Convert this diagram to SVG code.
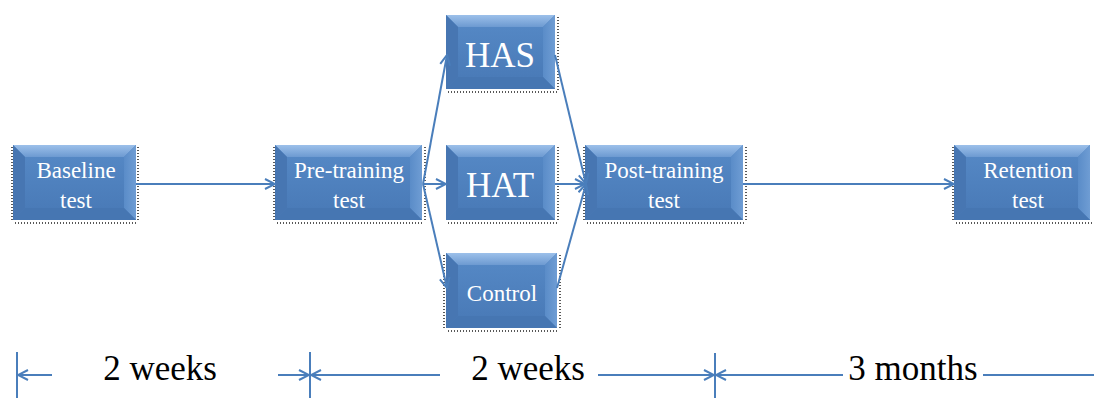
<svg xmlns="http://www.w3.org/2000/svg" width="1094" height="398" viewBox="0 0 1094 398">
<defs>
<linearGradient id="face" x1="0" y1="0" x2="0" y2="1">
<stop offset="0" stop-color="#5487c4"/>
<stop offset="1" stop-color="#4a7bb8"/>
</linearGradient>
<linearGradient id="topb" x1="0" y1="0" x2="0" y2="1">
<stop offset="0" stop-color="#9cc0ea"/>
<stop offset="1" stop-color="#6d9ad1"/>
</linearGradient>
<linearGradient id="rgt" x1="0" y1="0" x2="1" y2="0">
<stop offset="0" stop-color="#5a8cc8"/>
<stop offset="1" stop-color="#6f9dd4"/>
</linearGradient>
<marker id="ah" viewBox="0 0 12 12" refX="11" refY="6" markerWidth="12" markerHeight="12" markerUnits="userSpaceOnUse" orient="auto">
<path d="M1,1 L11,6 L1,11" fill="none" stroke="#4a7ebb" stroke-width="2"/>
</marker>
</defs>
<style>
.face{fill:url(#face)}
.tb{fill:url(#topb)}
.lb{fill:#4776b2}
.rb{fill:url(#rgt)}
.bb{fill:#4676b2}
.dot{fill:none;stroke:#222;stroke-width:1.5;stroke-dasharray:1 2}
.lbl{fill:#fff;text-anchor:middle}
.s{font-size:23px}
.b{font-size:35px}
.con{fill:none;stroke:#4a7ebb;stroke-width:2}
.dim{font-size:35px;fill:#000;text-anchor:middle}
</style>

<g id="baseline">
<path class="dot" d="M15,223 H137 M138,147 V222 M12,147 V222"/>
<rect class="face" x="13" y="145" width="123" height="75"/>
<polygon class="tb" points="13,145 136,145 124,157 25,157"/>
<polygon class="lb" points="13,145 25,157 25,208 13,220"/>
<polygon class="rb" points="136,145 124,157 124,208 136,220"/>
<polygon class="bb" points="13,220 25,208 124,208 136,220"/>
<rect class="face" x="25" y="157" width="99" height="51"/>
<text class="lbl s" font-family="Liberation Serif, Times New Roman, serif" x="76" y="178">Baseline</text>
<text class="lbl s" font-family="Liberation Serif, Times New Roman, serif" x="76" y="208">test</text>
</g>

<g id="pretraining">
<path class="dot" d="M277,223 H424 M425,147 V222 M274,147 V222"/>
<rect class="face" x="275" y="145" width="147" height="75"/>
<polygon class="tb" points="275,145 422,145 410,157 287,157"/>
<polygon class="lb" points="275,145 287,157 287,208 275,220"/>
<polygon class="rb" points="422,145 410,157 410,208 422,220"/>
<polygon class="bb" points="275,220 287,208 410,208 422,220"/>
<rect class="face" x="287" y="157" width="123" height="51"/>
<text class="lbl s" font-family="Liberation Serif, Times New Roman, serif" x="349" y="178">Pre-training</text>
<text class="lbl s" font-family="Liberation Serif, Times New Roman, serif" x="349" y="208">test</text>
</g>

<g id="has">
<path class="dot" d="M448,92 H557 M558,17 V91"/>
<rect class="face" x="446" y="15" width="109" height="74"/>
<polygon class="tb" points="446,15 555,15 543,27 458,27"/>
<polygon class="lb" points="446,15 458,27 458,77 446,89"/>
<polygon class="rb" points="555,15 543,27 543,77 555,89"/>
<polygon class="bb" points="446,89 458,77 543,77 555,89"/>
<rect class="face" x="458" y="27" width="85" height="50"/>
<text class="lbl b" font-family="Liberation Serif, Times New Roman, serif" x="500" y="67">HAS</text>
</g>

<g id="hat">
<path class="dot" d="M448,223 H557 M558,147 V222"/>
<rect class="face" x="446" y="145" width="109" height="75"/>
<polygon class="tb" points="446,145 555,145 543,157 458,157"/>
<polygon class="lb" points="446,145 458,157 458,208 446,220"/>
<polygon class="rb" points="555,145 543,157 543,208 555,220"/>
<polygon class="bb" points="446,220 458,208 543,208 555,220"/>
<rect class="face" x="458" y="157" width="85" height="51"/>
<text class="lbl b" font-family="Liberation Serif, Times New Roman, serif" x="500" y="197">HAT</text>
</g>

<g id="control">
<path class="dot" d="M448,331 H559 M560,255 V330 M444,255 V330"/>
<rect class="face" x="446" y="253" width="111" height="75"/>
<polygon class="tb" points="446,253 557,253 545,265 458,265"/>
<polygon class="lb" points="446,253 458,265 458,316 446,328"/>
<polygon class="rb" points="557,253 545,265 545,316 557,328"/>
<polygon class="bb" points="446,328 458,316 545,316 557,328"/>
<rect class="face" x="458" y="265" width="87" height="51"/>
<text class="lbl s" font-family="Liberation Serif, Times New Roman, serif" x="502" y="301">Control</text>
</g>

<g id="posttraining">
<path class="dot" d="M587,223 H745 M746,147 V222 M584,147 V222"/>
<rect class="face" x="585" y="145" width="158" height="75"/>
<polygon class="tb" points="585,145 743,145 731,157 597,157"/>
<polygon class="lb" points="585,145 597,157 597,208 585,220"/>
<polygon class="rb" points="743,145 731,157 731,208 743,220"/>
<polygon class="bb" points="585,220 597,208 731,208 743,220"/>
<rect class="face" x="597" y="157" width="134" height="51"/>
<text class="lbl s" font-family="Liberation Serif, Times New Roman, serif" x="664" y="178">Post-training</text>
<text class="lbl s" font-family="Liberation Serif, Times New Roman, serif" x="664" y="208">test</text>
</g>

<g id="retention">
<path class="dot" d="M956,223 H1092 M953,147 V222"/>
<rect class="face" x="954" y="145" width="136" height="75"/>
<polygon class="tb" points="954,145 1090,145 1078,157 966,157"/>
<polygon class="lb" points="954,145 966,157 966,208 954,220"/>
<polygon class="rb" points="1090,145 1078,157 1078,208 1090,220"/>
<polygon class="bb" points="954,220 966,208 1078,208 1090,220"/>
<rect class="face" x="966" y="157" width="112" height="51"/>
<text class="lbl s" font-family="Liberation Serif, Times New Roman, serif" x="1028" y="178">Retention</text>
<text class="lbl s" font-family="Liberation Serif, Times New Roman, serif" x="1028" y="208">test</text>
</g>

<g id="connectors">
<line class="con" x1="136" y1="184" x2="275" y2="184" marker-end="url(#ah)"/>
<line class="con" x1="423" y1="184" x2="447" y2="55" marker-end="url(#ah)"/>
<line class="con" x1="423" y1="184" x2="446" y2="184" marker-end="url(#ah)"/>
<line class="con" x1="423" y1="184" x2="447" y2="288" marker-end="url(#ah)"/>
<line class="con" x1="555" y1="55" x2="586" y2="184" marker-end="url(#ah)"/>
<line class="con" x1="555" y1="184" x2="585" y2="184" marker-end="url(#ah)"/>
<line class="con" x1="557" y1="288" x2="586" y2="184" marker-end="url(#ah)"/>
<line class="con" x1="743" y1="184" x2="954" y2="184" marker-end="url(#ah)"/>
</g>

<g id="timeline">
<line class="con" x1="17" y1="352" x2="17" y2="398"/>
<line class="con" x1="52" y1="375" x2="18" y2="375" marker-end="url(#ah)"/>
<line class="con" x1="310" y1="352" x2="310" y2="398"/>
<line class="con" x1="278" y1="375" x2="309" y2="375" marker-end="url(#ah)"/>
<line class="con" x1="440" y1="375" x2="311" y2="375" marker-end="url(#ah)"/>
<line class="con" x1="715" y1="353" x2="715" y2="398"/>
<line class="con" x1="598" y1="375" x2="714" y2="375" marker-end="url(#ah)"/>
<line class="con" x1="843" y1="375" x2="716" y2="375" marker-end="url(#ah)"/>
<line class="con" x1="983" y1="375" x2="1094" y2="375"/>
<text class="dim" font-family="Liberation Serif, Times New Roman, serif" x="160" y="380">2 weeks</text>
<text class="dim" font-family="Liberation Serif, Times New Roman, serif" x="528" y="380">2 weeks</text>
<text class="dim" font-family="Liberation Serif, Times New Roman, serif" x="913" y="380">3 months</text>
</g>
</svg>
